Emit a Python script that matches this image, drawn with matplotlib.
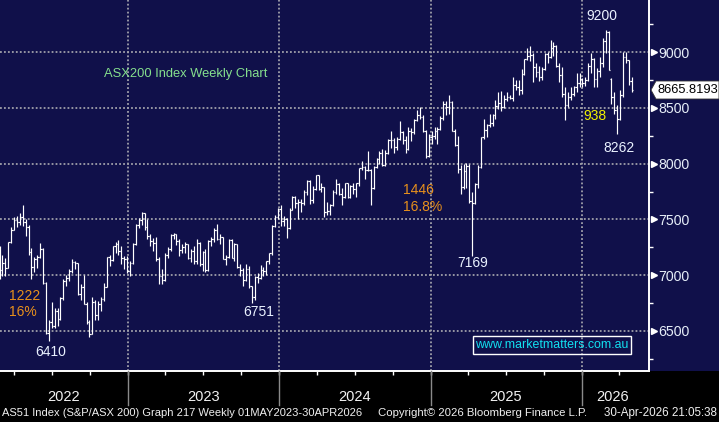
import matplotlib
matplotlib.use("Agg")
import matplotlib.pyplot as plt
import matplotlib.dates as mdates
from matplotlib.collections import LineCollection
from matplotlib.patches import Rectangle, Polygon
from matplotlib.ticker import MultipleLocator, FixedLocator
import matplotlib.transforms as mtransforms
import numpy as np
import pandas as pd

# ---------------- data (weekly OHLC, ASX200) ----------------
first_week = "2022-02-25"
opens = [
    7090, 7049, 7111, 7064, 7294, 7406, 7493, 7478, 7523, 7473,
    7435, 7205, 7075, 7146, 7160, 7238, 6931, 6475, 6578, 6541,
    6678, 6605, 6790, 6945, 6974, 7033, 7115, 7104, 6828, 6895,
    6740, 6575, 6474, 6762, 6645, 6736, 6786, 6892, 7158, 7134,
    7259, 7280, 7213, 7153, 7148, 7039, 7110, 7281, 7452, 7494,
    7558, 7433, 7346, 7308, 7284, 7144, 6995, 6955, 7178, 7234,
    7362, 7366, 7309, 7225, 7256, 7279, 7154, 7217, 7124, 7292,
    7099, 7203, 7042, 7303, 7325, 7403, 7326, 7340, 7148, 7158,
    7316, 7156, 7279, 7076, 7049, 6956, 7051, 6899, 6800, 6978,
    6977, 7049, 7040, 7123, 7194, 7442, 7525, 7590, 7489, 7499,
    7421, 7588, 7699, 7645, 7658, 7643, 7745, 7847, 7670, 7771,
    7897, 7773, 7788, 7567, 7575, 7629, 7749, 7814, 7727, 7702,
    7822, 7703, 7796, 7768, 7823, 7959, 7972, 7943, 7943, 7777,
    7971, 8044, 8092, 7991, 8099, 8210, 8212, 8150, 8224, 8283,
    8211, 8133, 8296, 8285, 8394, 8436, 8420, 8296, 8067, 8235,
    8250, 8294, 8309, 8408, 8532, 8511, 8555, 8297, 8172, 7948,
    7790, 7932, 7982, 7667, 7646, 7819, 7968, 8238, 8300, 8343,
    8361, 8434, 8515, 8548, 8505, 8580, 8603, 8590, 8708, 8690,
    8663, 8807, 8938, 8967, 8973, 8871, 8826, 8774, 8848, 8987,
    8958, 9040, 9060, 8880, 8800, 8630, 8530, 8600, 8630, 8690,
    8720, 8760, 8720, 8750, 8880, 8940, 8760, 8830, 8900, 9100,
    9180, 8760, 8600, 8480, 8400, 8620, 8960, 8930, 8740,
]
highs = [
    7260, 7180, 7150, 7300, 7430, 7520, 7530, 7560, 7632, 7500,
    7450, 7240, 7160, 7180, 7290, 7240, 6935, 6600, 6760, 6700,
    6700, 6800, 6960, 7000, 7050, 7140, 7130, 7104, 6920, 7000,
    6760, 6600, 6800, 6780, 6770, 6800, 6930, 7160, 7180, 7260,
    7300, 7310, 7260, 7170, 7170, 7130, 7290, 7460, 7510, 7570,
    7560, 7500, 7370, 7330, 7340, 7160, 7050, 7200, 7250, 7370,
    7380, 7370, 7320, 7280, 7300, 7280, 7230, 7260, 7320, 7300,
    7220, 7230, 7310, 7340, 7420, 7460, 7370, 7340, 7180, 7320,
    7320, 7290, 7280, 7100, 7060, 7100, 7080, 6900, 6990, 7020,
    7090, 7070, 7130, 7200, 7450, 7540, 7600, 7630, 7530, 7510,
    7600, 7710, 7710, 7680, 7680, 7760, 7850, 7850, 7800, 7900,
    7900, 7830, 7790, 7660, 7640, 7760, 7860, 7830, 7780, 7830,
    7830, 7810, 7830, 7830, 7960, 8020, 7980, 8110, 7950, 7980,
    8050, 8110, 8130, 8120, 8220, 8290, 8230, 8240, 8380, 8290,
    8250, 8330, 8320, 8400, 8480, 8510, 8440, 8300, 8270, 8290,
    8330, 8330, 8430, 8560, 8560, 8615, 8560, 8310, 8250, 7990,
    8000, 8010, 8000, 7750, 7830, 7990, 8240, 8400, 8360, 8450,
    8450, 8570, 8640, 8650, 8620, 8640, 8620, 8780, 8750, 8750,
    8850, 8940, 9040, 9055, 8990, 8900, 8880, 8870, 8990, 9005,
    9110, 9090, 9070, 8900, 8870, 8690, 8640, 8690, 8700, 8810,
    8810, 8765, 8780, 8900, 8990, 8950, 8855, 8960, 9125, 9200,
    9195, 8765, 8645, 8525, 8660, 9005, 9005, 8930, 8778,
]
lows = [
    6960, 6990, 6990, 7060, 7290, 7400, 7430, 7450, 7440, 7350,
    7180, 6960, 7030, 7060, 7150, 6920, 6470, 6410, 6520, 6520,
    6540, 6600, 6780, 6900, 6950, 7020, 7050, 6820, 6780, 6740,
    6560, 6440, 6470, 6600, 6600, 6680, 6770, 6890, 7080, 7130,
    7200, 7180, 7100, 7050, 7020, 6990, 7100, 7270, 7420, 7450,
    7400, 7320, 7260, 7220, 7130, 6920, 6920, 6950, 7150, 7220,
    7320, 7270, 7170, 7200, 7200, 7140, 7120, 7100, 7100, 7080,
    7040, 7030, 7040, 7260, 7300, 7310, 7280, 7140, 7090, 7150,
    7150, 7130, 7060, 6990, 6900, 6950, 6880, 6751, 6780, 6930,
    6960, 6990, 7000, 7100, 7180, 7430, 7500, 7440, 7440, 7330,
    7410, 7580, 7600, 7500, 7570, 7630, 7720, 7640, 7650, 7760,
    7760, 7750, 7520, 7540, 7540, 7620, 7730, 7720, 7630, 7690,
    7690, 7690, 7730, 7700, 7800, 7940, 7860, 7930, 7630, 7770,
    7960, 8000, 7980, 7980, 8090, 8140, 8100, 8120, 8210, 8180,
    8100, 8120, 8200, 8270, 8380, 8400, 8280, 8050, 8060, 8180,
    8220, 8180, 8300, 8390, 8440, 8450, 8290, 8160, 7920, 7730,
    7770, 7780, 7650, 7169, 7640, 7780, 7960, 8225, 8240, 8330,
    8340, 8404, 8490, 8470, 8500, 8560, 8580, 8560, 8660, 8620,
    8630, 8800, 8930, 8920, 8734, 8780, 8740, 8750, 8840, 8900,
    8950, 8970, 8870, 8735, 8600, 8390, 8510, 8570, 8610, 8640,
    8690, 8690, 8700, 8740, 8810, 8690, 8690, 8780, 8870, 8990,
    8840, 8540, 8450, 8262, 8390, 8600, 8900, 8704, 8644,
]
closes = [
    7049, 7111, 7064, 7294, 7406, 7493, 7478, 7523, 7473, 7435,
    7205, 7075, 7146, 7160, 7238, 6931, 6475, 6578, 6541, 6678,
    6605, 6790, 6945, 6974, 7033, 7115, 7104, 6828, 6895, 6740,
    6575, 6474, 6762, 6645, 6736, 6786, 6892, 7158, 7134, 7259,
    7280, 7213, 7153, 7148, 7039, 7110, 7281, 7452, 7494, 7558,
    7433, 7346, 7308, 7284, 7144, 6995, 6955, 7178, 7234, 7362,
    7366, 7309, 7225, 7256, 7279, 7154, 7217, 7124, 7292, 7099,
    7203, 7042, 7303, 7325, 7403, 7326, 7340, 7148, 7158, 7316,
    7156, 7279, 7076, 7049, 6956, 7051, 6899, 6800, 6978, 6977,
    7049, 7040, 7123, 7194, 7442, 7525, 7590, 7489, 7499, 7421,
    7588, 7699, 7645, 7658, 7643, 7745, 7847, 7670, 7771, 7897,
    7773, 7788, 7567, 7575, 7629, 7749, 7814, 7727, 7702, 7822,
    7703, 7796, 7768, 7823, 7959, 7972, 7943, 7943, 7777, 7971,
    8044, 8092, 7991, 8099, 8210, 8212, 8150, 8224, 8283, 8211,
    8133, 8296, 8285, 8394, 8436, 8420, 8296, 8067, 8235, 8250,
    8294, 8309, 8408, 8532, 8511, 8555, 8297, 8172, 7948, 7790,
    7932, 7982, 7667, 7646, 7819, 7968, 8238, 8300, 8343, 8361,
    8434, 8515, 8548, 8505, 8580, 8603, 8590, 8708, 8690, 8663,
    8807, 8938, 8967, 8973, 8871, 8826, 8774, 8848, 8987, 8958,
    9040, 9060, 8880, 8800, 8630, 8530, 8600, 8630, 8690, 8720,
    8760, 8720, 8750, 8880, 8940, 8760, 8830, 8900, 9100, 9180,
    8845, 8600, 8480, 8400, 8620, 8960, 8930, 8740, 8665.8193,
]
last_price_label = "8665.8193"
y_major = [6500, 7000, 7500, 8000, 8500, 9000]
year_labels = ["2022", "2023", "2024", "2025", "2026"]
footer_left = "AS51 Index (S&P/ASX 200) Graph 217 Weekly 01MAY2023-30APR2026"
footer_mid = "Copyright\u00a9 2026 Bloomberg Finance L.P."
footer_right = "30-Apr-2026 21:05:38"

# ---------------- styling ----------------
W, H = 719, 422
NAVY = "#10104a"
FONT = "Liberation Sans"
plt.rcParams["font.family"] = [FONT, "DejaVu Sans"]

fig = plt.figure(figsize=(W / 100, H / 100), dpi=100, facecolor="black")

def fx(x):
    return x / W

def fy(y):
    return 1 - y / H

plot_bottom_px = 371
axes_right_px = 649

# navy band across the top (plot + price axis area), behind everything
fig.add_artist(Rectangle((0, fy(plot_bottom_px)), 1, 1 - fy(plot_bottom_px),
                         transform=fig.transFigure, facecolor=NAVY,
                         edgecolor="none", zorder=-10))

ax = fig.add_axes([0, fy(plot_bottom_px), fx(axes_right_px), 1 - fy(plot_bottom_px)])
ax.set_facecolor(NAVY)

dates = pd.date_range(first_week, periods=len(closes), freq="W-FRI")
xd = mdates.date2num(dates)
o = np.array(opens, float); h = np.array(highs, float)
l = np.array(lows, float); c = np.array(closes, float)

# x scale: Jan 1 2023 at px 128, Jan 1 2026 at px 582
d2023 = mdates.date2num(pd.Timestamp("2023-01-01"))
d2026 = mdates.date2num(pd.Timestamp("2026-01-01"))
ppd = (582 - 128) / (d2026 - d2023)
x0 = d2023 - 128 / ppd
x1 = x0 + axes_right_px / ppd
ax.set_xlim(x0, x1)

# y scale: 9000 at px 52.3, 6500 at px 330.7
ppp = (330.7 - 52.3) / 2500.0
y_top = 9000 + 52.3 / ppp
y_bot = 9000 - (plot_bottom_px - 52.3) / ppp
ax.set_ylim(y_bot, y_top)

# grid
grid_kw = dict(color="#a0a0aa", lw=1.3, linestyle=(0, (1.0, 1.2)), zorder=1)
for v in y_major:
    ax.axhline(v, **grid_kw)
for yr in [2023, 2024, 2025, 2026]:
    ax.axvline(mdates.date2num(pd.Timestamp(f"{yr}-01-01")), **grid_kw)

# OHLC bars
tick = 3.4
segs = []
for xi, oi, hi, li, ci in zip(xd, o, h, l, c):
    segs.append([(xi, li), (xi, hi)])
    segs.append([(xi - tick, oi), (xi, oi)])
    segs.append([(xi, ci), (xi + tick, ci)])
bars = LineCollection(segs, colors="white", linewidths=0.85, zorder=3)
bars.set_snap(True)
ax.add_collection(bars)

# spines
for s in ["top", "left"]:
    ax.spines[s].set_visible(False)
for s in ["right", "bottom"]:
    ax.spines[s].set_color("white")
    ax.spines[s].set_linewidth(1.4)

# y axis on right
ax.yaxis.tick_right()
ax.yaxis.set_major_locator(FixedLocator(y_major))
ax.yaxis.set_minor_locator(MultipleLocator(250))
ax.tick_params(axis="y", which="major", length=0, pad=7.0, labelsize=10.2,
               labelcolor="#e6eef8")
ax.tick_params(axis="y", which="minor", length=3, width=1, color="white",
               direction="out")
ax.set_yticklabels([str(v) for v in y_major])
trans = mtransforms.blended_transform_factory(ax.transAxes, ax.transData)
ax.plot([1 + 4.5 / axes_right_px] * len(y_major), y_major, linestyle="none",
        marker=">", markersize=5, color="white", transform=trans, clip_on=False,
        zorder=5)

# x axis: quarter ticks, no labels
qt = [mdates.date2num(pd.Timestamp(f"{yy}-{mm:02d}-01"))
      for yy in range(2022, 2027) for mm in (1, 4, 7, 10)]
qt = [q for q in qt if x0 < q < x1]
ax.xaxis.set_major_locator(FixedLocator(qt))
ax.tick_params(axis="x", which="major", length=3, width=1, color="white",
               labelbottom=False)

# year separators and labels below the plot
for yr in [2023, 2024, 2025, 2026]:
    xp = (mdates.date2num(pd.Timestamp(f"{yr}-01-01")) - x0) * ppd
    fig.add_artist(plt.Line2D([fx(xp), fx(xp)], [fy(plot_bottom_px), fy(405)],
                              transform=fig.transFigure, color="#8a8a8a", lw=1))
year_px = [64, 204, 355, 506, 613]
for lab, xp in zip(year_labels, year_px):
    fig.text(fx(xp), fy(397), lab, color="#f2f2f2", fontsize=10.5,
             ha="center", va="center")

# footer
fig.text(fx(2), fy(413), footer_left, color="#f0f0f0", fontsize=8.0,
         ha="left", va="center")
fig.text(fx(378), fy(413), footer_mid, color="#f0f0f0", fontsize=8.2,
         ha="left", va="center")
fig.text(fx(717), fy(413), footer_right, color="#f0f0f0", fontsize=8.4,
         ha="right", va="center")

# annotations
WHITE_T = "#eaf2ff"
ORANGE = "#e8901c"
fig.text(fx(104), fy(74), "ASX200 Index Weekly Chart", color="#86e08e",
         fontsize=9.3, ha="left", va="center")
fig.text(fx(9), fy(296), "1222", color=ORANGE, fontsize=10, ha="left", va="center")
fig.text(fx(9), fy(312), "16%", color=ORANGE, fontsize=10, ha="left", va="center")
fig.text(fx(403), fy(190), "1446", color=ORANGE, fontsize=10, ha="left", va="center")
fig.text(fx(403), fy(207), "16.8%", color=ORANGE, fontsize=10, ha="left", va="center")
fig.text(fx(35), fy(352), "6410", color=WHITE_T, fontsize=10, ha="left", va="center")
fig.text(fx(243), fy(312), "6751", color=WHITE_T, fontsize=10, ha="left", va="center")
fig.text(fx(457), fy(263), "7169", color=WHITE_T, fontsize=10, ha="left", va="center")
fig.text(fx(586), fy(16), "9200", color=WHITE_T, fontsize=10, ha="left", va="center")
fig.text(fx(603), fy(148), "8262", color=WHITE_T, fontsize=10, ha="left", va="center")
fig.text(fx(583), fy(116), "938", color="#f2f200", fontsize=10, ha="left", va="center")

# last price flag
flag = Polygon([(fx(651), fy(90)), (fx(656), fy(81)), (fx(719), fy(81)),
                (fx(719), fy(99)), (fx(656), fy(99))], closed=True,
               transform=fig.transFigure, facecolor="white", edgecolor="#333333",
               lw=0.6, zorder=6)
fig.add_artist(flag)
fig.text(fx(657), fy(90), last_price_label, color="black", fontsize=9.3,
         ha="left", va="center", zorder=7)

# website box
fig.add_artist(Rectangle((fx(473), fy(354)), fx(631 - 473), (354 - 336) / H,
                         transform=fig.transFigure, facecolor="none",
                         edgecolor="white", lw=1, zorder=6))
fig.text(fx(552), fy(345.5), "www.marketmatters.com.au", color="#12e0f0",
         fontsize=8.9, ha="center", va="center", zorder=7)

fig.savefig("out.png", dpi=100, facecolor="black")
